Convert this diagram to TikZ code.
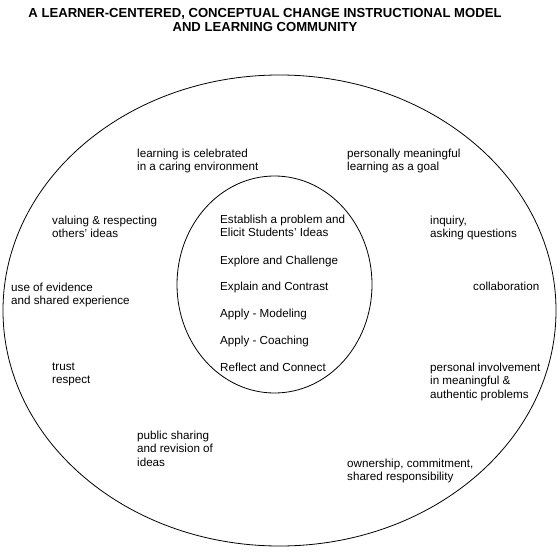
\documentclass[tikz,border=0pt]{standalone}
\usepackage{fontspec}
\setmainfont{Liberation Sans}
\usetikzlibrary{positioning}
\newcommand{\lblfont}{\fontsize{11.65bp}{13.5bp}\selectfont}
\newcommand{\ttlfont}{\fontsize{13.1bp}{14bp}\selectfont\bfseries}

\begin{document}
\begin{tikzpicture}[x=1bp,y=-1bp,
  lbl/.style={anchor=north west,inner sep=0pt,align=left,font=\lblfont},
  ring/.style={draw=black,line width=0.8bp}]
  \useasboundingbox (0,0) rectangle (558,553);
  % title
  \node[font=\ttlfont,align=center,inner sep=0pt] (title) at (265,20)
    {A LEARNER-CENTERED, CONCEPTUAL CHANGE INSTRUCTIONAL MODEL\\AND LEARNING COMMUNITY};
  % community ring and model ring
  \draw[ring] (279.5,310.5) ellipse [x radius=276.5,y radius=235.5];
  \draw[ring] (274.5,284.5) ellipse [x radius=97.5,y radius=108.5];
  % instructional model steps
  \node[lbl] (elicit) at (220,214.5) {Establish a problem and\\Elicit Students' Ideas};
  \node[lbl] (explore) at (220,255.5) {Explore and Challenge};
  \node[lbl] (explain) at (220,282) {Explain and Contrast};
  \node[lbl] (model) at (220,309) {Apply - Modeling};
  \node[lbl] (coach) at (220,336) {Apply - Coaching};
  \node[lbl] (reflect) at (220,363) {Reflect and Connect};
  % learning community, left side
  \node[lbl] (celebr) at (137,148.5) {learning is celebrated\\in a caring environment};
  \node[lbl] (valuing) at (52,215.5) {valuing \& respecting\\others' ideas};
  \node[lbl] (evidence) at (11,282.5) {use of evidence\\and shared experience};
  \node[lbl] (trust) at (52,362.5) {trust\\respect};
  \node[lbl] (public) at (137,430.5) {public sharing\\and revision of\\ideas};
  % learning community, right side
  \node[lbl] (goal) at (347,148.5) {personally meaningful\\learning as a goal};
  \node[lbl] (inquiry) at (430,215.5) {inquiry,\\asking questions};
  \node[lbl] (collab) at (473,281.5) {collaboration};
  \node[lbl] (involve) at (430,362.5) {personal involvement\\in meaningful \&\\authentic problems};
  \node[lbl] (owner) at (347,458.5) {ownership, commitment,\\shared responsibility};
\end{tikzpicture}
\end{document}
